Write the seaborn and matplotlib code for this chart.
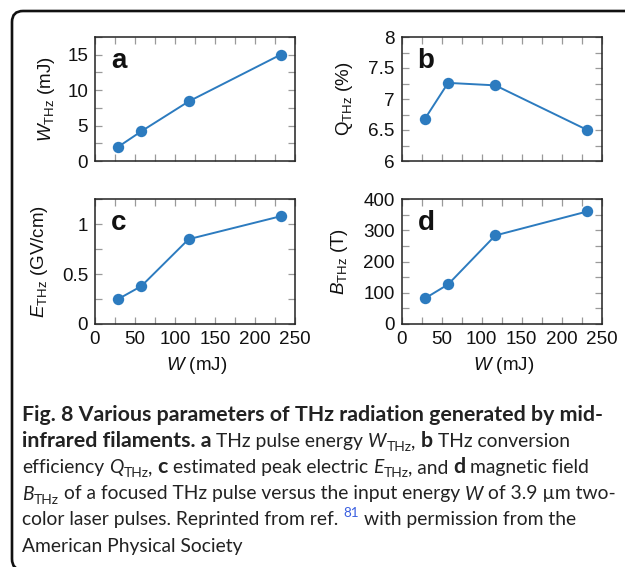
import numpy as np
import pandas as pd
import matplotlib
matplotlib.use("Agg")
import matplotlib.pyplot as plt
import seaborn as sns
from matplotlib.ticker import MultipleLocator, FuncFormatter
from matplotlib.patches import FancyBboxPatch
from matplotlib.transforms import IdentityTransform

# ---------------- data ----------------
input_energy = [29, 58, 117, 232]          # W (mJ)
w_thz = [2.0, 4.2, 8.4, 15.0]              # W_THz (mJ)
q_thz = [6.68, 7.26, 7.22, 6.50]           # Q_THz (%)
e_thz = [0.25, 0.38, 0.85, 1.08]           # E_THz (GV/cm)
b_thz = [82, 127, 284, 361]                # B_THz (T)

panel_letters = ["a", "b", "c", "d"]
y_labels = [r"$W_{\mathrm{THz}}$ (mJ)", r"$\mathrm{Q}_{\mathrm{THz}}$ (%)",
            r"$E_{\mathrm{THz}}$ (GV/cm)", r"$B_{\mathrm{THz}}$ (T)"]
x_label = r"$W$ (mJ)"

sns.set_theme(style="ticks")
plt.rcParams["font.family"] = ["Liberation Sans", "DejaVu Sans"]
plt.rcParams["mathtext.fontset"] = "custom"
plt.rcParams["mathtext.rm"] = "Liberation Sans"
plt.rcParams["mathtext.it"] = "Liberation Sans:italic"
plt.rcParams["mathtext.bf"] = "Liberation Sans:bold"

W, H = 625, 567
fig = plt.figure(figsize=(W / 100, H / 100), dpi=100)


def rect(x0, y0, x1, y1):
    return [x0 / W, (H - y1) / H, (x1 - x0) / W, (y1 - y0) / H]


rects = [(95, 37, 295, 161), (401.7, 37, 601.7, 161),
         (95, 199.3, 295, 324), (401.7, 199.3, 601.7, 324)]
series = [w_thz, q_thz, e_thz, b_thz]
ylims = [(0, 17.5), (6, 8), (0, 1.25), (0, 400)]
ymajor = [5, 0.5, 0.5, 100]
yminor = [2.5, 0.25, 0.25, 50]
ylab_x = [-0.19, -0.235, -0.225, -0.26]

color = "#2c7bbf"
fmt = FuncFormatter(lambda v, p: f"{v:g}")

for i in range(4):
    ax = fig.add_axes(rect(*rects[i]))
    df = pd.DataFrame({"W": input_energy, "y": series[i]})
    sns.lineplot(data=df, x="W", y="y", ax=ax, color=color, linewidth=1.4,
                 marker="o", markersize=8.2, markeredgewidth=0,
                 markeredgecolor=color, markerfacecolor=color)
    ax.set_xlim(0, 250)
    ax.set_ylim(*ylims[i])
    ax.xaxis.set_major_locator(MultipleLocator(50))
    ax.xaxis.set_minor_locator(MultipleLocator(25))
    ax.yaxis.set_major_locator(MultipleLocator(ymajor[i]))
    ax.yaxis.set_minor_locator(MultipleLocator(yminor[i]))
    ax.yaxis.set_major_formatter(fmt)
    ax.xaxis.set_major_formatter(fmt)
    ax.tick_params(which="both", direction="in", top=True, right=True,
                   length=5, width=0.9, color="#9a9a9a", labelsize=13.6,
                   pad=5, labelcolor="#111111")
    for sp in ax.spines.values():
        sp.set_color("#222222")
        sp.set_linewidth(1.1)
    ax.set_ylabel(y_labels[i], fontsize=13.5, color="#111111")
    ax.yaxis.set_label_coords(ylab_x[i], 0.5)
    if i < 2:
        ax.set_xlabel("")
        ax.tick_params(axis="x", labelbottom=False)
    else:
        ax.set_xlabel(x_label, fontsize=13.5, color="#111111")
        ax.xaxis.set_label_coords(0.51, -0.25)
    ax.text(0.08, 0.81, panel_letters[i], transform=ax.transAxes,
            fontsize=20, fontweight="bold", ha="left", va="center",
            color="#111111")

# ---------------- border ----------------
box = FancyBboxPatch((12, H - 570), 640, 570 - 11,
                     boxstyle="round,pad=0,rounding_size=11",
                     transform=IdentityTransform(), fill=False,
                     edgecolor="#111111", linewidth=1.9, figure=fig)
fig.patches.append(box)

# ---------------- caption ----------------
renderer = fig.canvas.get_renderer()
cap_family = ["Lato", "DejaVu Sans"]
sizes = {"b": 12.0, "r": 12.0}


def style_kw(st):
    base = sizes["b"] if st == "b" else sizes["r"]
    kw = dict(family=cap_family, fontsize=base, color="#222222")
    dy = 0
    if st == "b":
        kw["fontweight"] = "bold"
    elif st == "i":
        kw["fontstyle"] = "italic"
    elif st == "s":
        kw["fontsize"] = base * 0.72
        dy = -0.22 * base * 100 / 72
    elif st == "p":
        kw["fontsize"] = base * 0.7
        kw["color"] = "#3a5fe0"
        dy = 0.45 * base * 100 / 72
    return kw, dy


def measure(s, kw):
    t = fig.text(0, 0, s, **kw)
    w = t.get_window_extent(renderer).width
    t.remove()
    return w


def space_w(kw):
    return measure("a a", kw) - measure("aa", kw)


lines = [
    [("Fig. 8 Various parameters of THz radiation generated by mid-", "b")],
    [("infrared filaments. a", "b"), (" THz pulse energy ", "r"), ("W", "i"),
     ("THz", "s"), (", ", "r"), ("b", "b"), (" THz conversion", "r")],
    [("efficiency ", "r"), ("Q", "i"), ("THz", "s"), (", ", "r"), ("c", "b"),
     (" estimated peak electric ", "r"), ("E", "i"), ("THz", "s"),
     (", and ", "r"), ("d", "b"), (" magnetic field", "r")],
    [("B", "i"), ("THz", "s"),
     (" of a focused THz pulse versus the input energy ", "r"), ("W", "i"),
     (" of 3.9 µm two-", "r")],
    [("color laser pulses. Reprinted from ref. ", "r"), ("81", "p"),
     (" with permission from the", "r")],
    [("American Physical Society", "r")],
]


def line_width(segs):
    x = 0.0
    for s, st in segs:
        kw, _ = style_kw(st)
        sp = space_w(kw)
        if s.startswith(" "):
            x += sp
        core = s.strip()
        if core:
            x += measure(core, kw)
        if s.endswith(" ") and core:
            x += sp
    return x


# line extents measured on the reference (pixels from the left text edge)
targets = [581, 543, 581, 581, 556, 221]
for _ in range(4):
    sizes["b"] *= targets[0] / line_width(lines[0])
for _ in range(4):
    ratios = [targets[k] / line_width(lines[k]) for k in range(1, 6)]
    sizes["r"] *= float(np.mean(ratios))

baselines = [421, 447, 473, 499.5, 525.5, 552]
x_start = 22
for segs, yb in zip(lines, baselines):
    x = x_start
    for s, st in segs:
        kw, dy = style_kw(st)
        sp = space_w(kw)
        if s.startswith(" "):
            x += sp
        core = s.strip()
        if core:
            t = fig.text(x / W, (H - yb + dy) / H, core, ha="left",
                         va="baseline", **kw)
            x += t.get_window_extent(renderer).width
        if s.endswith(" ") and core:
            x += sp

fig.savefig("out.png", dpi=100)
